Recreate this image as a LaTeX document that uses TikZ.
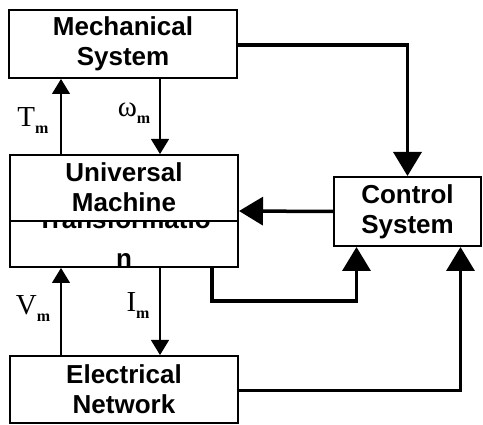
\documentclass[tikz,border=0pt]{standalone}
\usepackage{fontspec}
\setmainfont{Liberation Sans}
\newfontfamily\lblfont{Liberation Serif}
\usetikzlibrary{arrows.meta}
\tikzset{
  box/.style={draw, line width=2pt, rectangle, inner sep=0pt, align=center,
    font=\fontsize{26}{30}\selectfont\bfseries},
  txt/.style={inner sep=0pt, align=center, font=\fontsize{26}{30}\selectfont\bfseries},
  thinarrow/.style={line width=1.2pt, -{Triangle[length=15pt,width=18pt]}},
  thickarrow/.style={line width=3.5pt, -{Triangle[length=24pt,width=28pt]}},
  lbl/.style={inner sep=0pt, font=\lblfont\fontsize{29}{29}\selectfont},
}
\newcommand{\subm}{\raisebox{-7pt}{\fontsize{16}{16}\selectfont\bfseries m}}
\begin{document}
\begin{tikzpicture}[x=1pt,y=-1pt]
\useasboundingbox[fill=white] (0,0) rectangle (483,425);
% boxes
\node[box, minimum width=228pt, minimum height=68pt] (mech) at (123,44) {Mechanical\\System};
\node[box, minimum width=228pt, minimum height=112pt] (univ) at (124,211) {};
\node[box, minimum width=147pt, minimum height=69pt] (ctrl) at (407.5,211.5) {Control\\System};
\node[box, minimum width=228pt, minimum height=67pt] (elec) at (124,389.5) {Electrical\\Network};
% universal machine contents
\node[txt] (utext) at (124,187) {Universal\\Machine};
\draw[line width=2pt] (10,221) -- (238,221);
\begin{scope}
  \clip (10,222) rectangle (238,267);
  \node[txt, anchor=base] (ttext) at (124,229) {Transformatio};
  \node[txt, anchor=base] (ntext) at (124,268) {n};
\end{scope}
% thin signal arrows
\draw[thinarrow] ([xshift=-63pt]univ.north) -- ([xshift=-62pt]mech.south);
\draw[thinarrow] ([xshift=37pt]mech.south) -- ([xshift=36pt]univ.north);
\draw[thinarrow] ([xshift=-63pt]elec.north) -- ([xshift=-63pt]univ.south);
\draw[thinarrow] ([xshift=36pt]univ.south) -- ([xshift=36pt]elec.north);
% labels
\node[lbl] (tm) at (33,121) {T\subm};
\node[lbl] (wm) at (134,113) {ω\subm};
\node[lbl] (vm) at (33,309) {V\subm};
\node[lbl] (im) at (138,306) {I\subm};
% control connectors
\draw[thickarrow] ([yshift=-1pt]mech.east) -| (ctrl.north);
\draw[thickarrow] (ctrl.west) -- (univ.east);
\draw[thickarrow] ([xshift=88pt]univ.south) |- ++(0,33) -| ([xshift=-51pt]ctrl.south);
\draw[thickarrow] ([yshift=-1pt]elec.east) -| ([xshift=53pt]ctrl.south);
\end{tikzpicture}
\end{document}
